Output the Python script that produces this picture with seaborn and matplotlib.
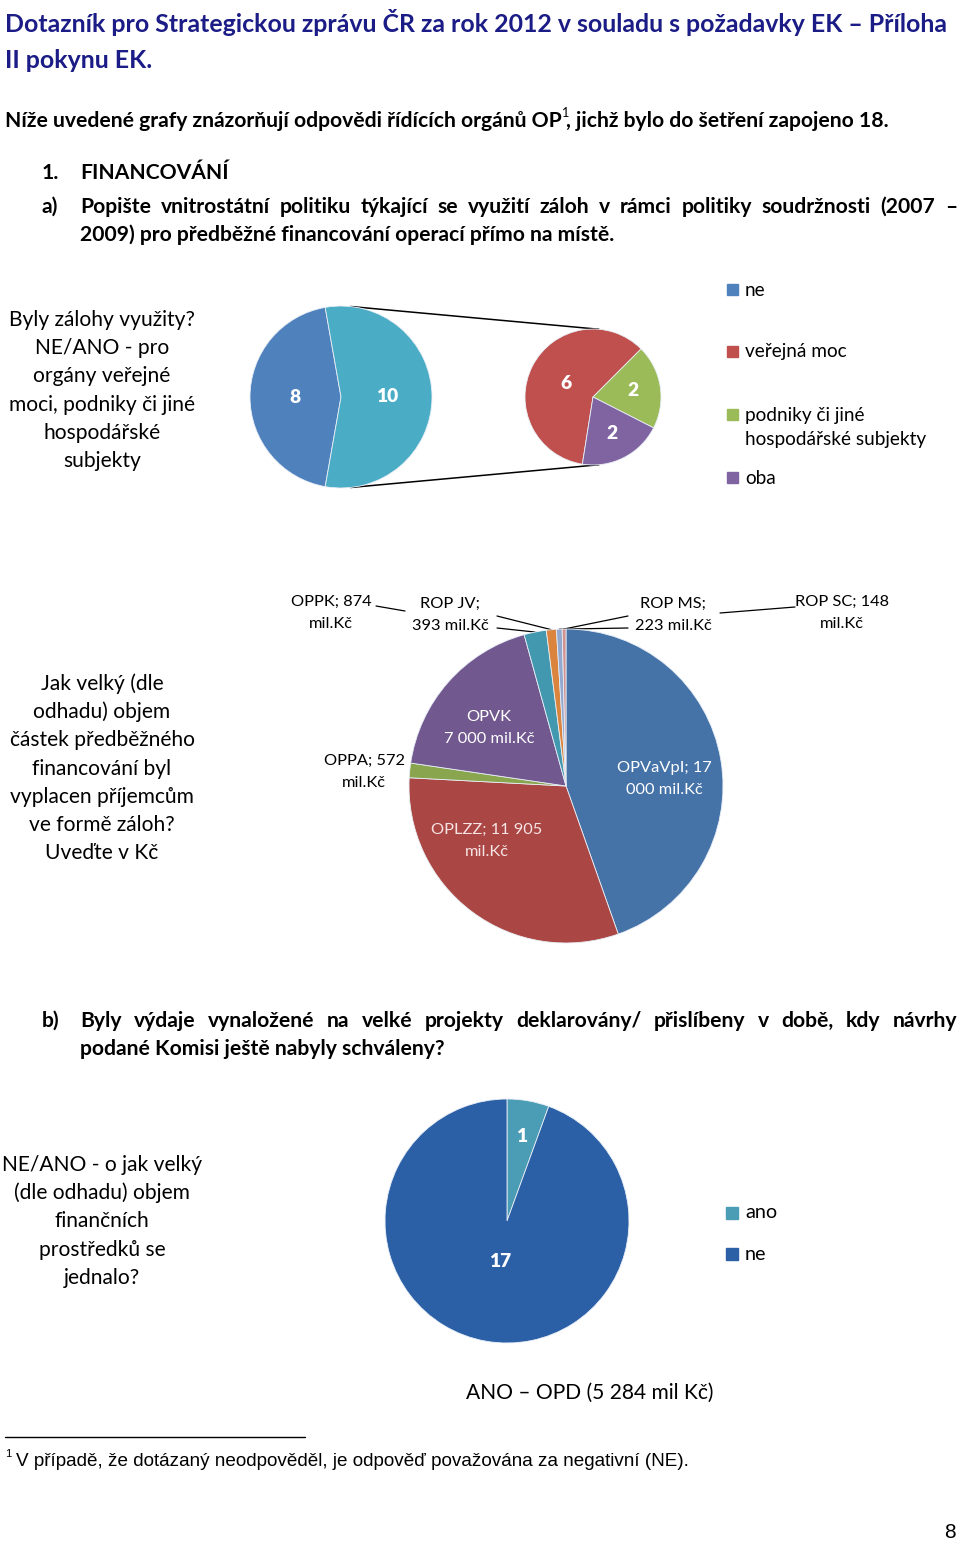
import numpy as np
import matplotlib
matplotlib.use("Agg")
import matplotlib.pyplot as plt
from matplotlib.patches import Rectangle
import seaborn as sns

# ---- data ----
q1_main_labels = ["ne", "ano"]
q1_main_values = [8, 10]
q1_split_labels = ["veřejná moc", "podniky či jiné\nhospodářské subjekty", "oba"]
q1_split_values = [6, 2, 2]

q2_programmes = ["OPVaVpI", "OPLZZ", "OPPA", "OPVK", "OPPK", "ROP JV", "ROP MS", "ROP SC"]
q2_amounts = [17000, 11905, 572, 7000, 874, 393, 223, 148]
q2_texts = ["OPVaVpI; 17\n000 mil.Kč", "OPLZZ; 11 905\nmil.Kč", "OPPA; 572\nmil.Kč",
            "OPVK\n7 000 mil.Kč", "OPPK; 874\nmil.Kč", "ROP JV;\n393 mil.Kč",
            "ROP MS;\n223 mil.Kč", "ROP SC; 148\nmil.Kč"]

q3_labels = ["ano", "ne"]
q3_values = [1, 17]

# ---- style ----
sns.set_theme(style="white")
plt.rcParams['font.family'] = ['Lato', 'DejaVu Sans']

W, H = 960, 1545
fig = plt.figure(figsize=(W / 100, H / 100), dpi=100)
page = fig.add_axes([0, 0, 1, 1])
page.set_xlim(0, W)
page.set_ylim(H, 0)
page.axis('off')
renderer = fig.canvas.get_renderer()


def width_px(s, size, **kw):
    t = page.text(0, 0, s, fontsize=size, **kw)
    w = t.get_window_extent(renderer).width
    t.remove()
    return w


def fit(s, target, **kw):
    return 10 * target / width_px(s, 10, **kw)


def justify(line, x0, x1, y, size, **kw):
    words = line.split(' ')
    ws = [width_px(w, size, **kw) for w in words]
    gap = (x1 - x0 - sum(ws)) / (len(words) - 1)
    x = x0
    for w, wd in zip(words, ws):
        page.text(x, y, w, fontsize=size, va='center', ha='left', **kw)
        x += wd + gap


def pie_axes(cx, cy, r):
    return fig.add_axes([(cx - r) / W, 1 - (cy + r) / H, 2 * r / W, 2 * r / H])


def finish(ax):
    ax.set_xlim(-1, 1)
    ax.set_ylim(-1, 1)
    ax.axis('off')


# ---- header ----
navy = '#1B1C86'
h1 = "Dotazník pro Strategickou zprávu ČR za rok 2012 v souladu s požadavky EK – Příloha"
hs = fit(h1, 945, fontweight='bold')
page.text(5, 22, h1, fontsize=hs, fontweight='bold', color=navy, va='center')
page.text(5, 60, "II pokynu EK.", fontsize=hs, fontweight='bold', color=navy, va='center')

part1 = "Níže uvedené grafy znázorňují odpovědi řídících orgánů OP"
part2 = ", jichž bylo do šetření zapojeno 18."
bs = fit(part1 + "1" + part2, 895, fontweight='bold')
bold = dict(fontweight='bold', color='black')

# intro line with superscript
page.text(5, 121, part1, fontsize=bs, va='center', **bold)
x = 5 + width_px(part1, bs, fontweight='bold')
page.text(x - 1, 113, "1", fontsize=bs * 0.6, va='center', color='black')
page.text(x + 4, 121, part2, fontsize=bs, va='center', **bold)

page.text(42, 173, "1.", fontsize=bs, va='center', **bold)
page.text(80, 173, "FINANCOVÁNÍ", fontsize=bs, va='center', **bold)
page.text(42, 207, "a)", fontsize=bs, va='center', **bold)
justify("Popište vnitrostátní politiku týkající se využití záloh v rámci politiky soudržnosti (2007 –",
        80, 957, 207, bs, **bold)
page.text(80, 235, "2009) pro předběžné financování operací přímo na místě.", fontsize=bs, va='center', **bold)

page.text(42, 1021, "b)", fontsize=bs, va='center', **bold)
justify("Byly výdaje vynaložené na velké projekty deklarovány/ přislíbeny v době, kdy návrhy",
        80, 957, 1021, bs, **bold)
page.text(80, 1049, "podané Komisi ještě nabyly schváleny?", fontsize=bs, va='center', **bold)

# ---- left question texts ----
qs = fit("moci, podniky či jiné", 188)
q1_lines = ["Byly zálohy využity?", "NE/ANO - pro", "orgány veřejné", "moci, podniky či jiné",
            "hospodářské", "subjekty"]
for i, s in enumerate(q1_lines):
    page.text(102, 320 + 28.2 * i, s, fontsize=qs, ha='center', va='center', color='black')
q2_lines = ["Jak velký (dle", "odhadu) objem", "částek předběžného", "financování byl",
            "vyplacen příjemcům", "ve formě záloh?", "Uveďte v Kč"]
for i, s in enumerate(q2_lines):
    page.text(102, 684 + 28.2 * i, s, fontsize=qs, ha='center', va='center', color='black')
q3_lines = ["NE/ANO - o jak velký", "(dle odhadu) objem", "finančních", "prostředků se", "jednalo?"]
for i, s in enumerate(q3_lines):
    page.text(102, 1165 + 28.2 * i, s, fontsize=qs, ha='center', va='center', color='black')

# ---- chart 1: pie of pie ----
c1_main = ['#4F81BD', '#4BACC6']
c1_split = ['#C0504D', '#9BBB59', '#8064A2']
edge = dict(edgecolor='#E8EEF6', linewidth=0.6)
lab = dict(color='white', fontweight='heavy', ha='center', va='center')

ls = fit("10", 22, fontweight='heavy')
ax1 = pie_axes(341, 397, 91)
wedges, _ = ax1.pie(q1_main_values, colors=c1_main, startangle=100, wedgeprops=edge)
finish(ax1)
for w, v in zip(wedges, q1_main_values):
    a = np.deg2rad((w.theta1 + w.theta2) / 2)
    ax1.text(0.51 * np.cos(a), 0.51 * np.sin(a), str(v), fontsize=ls, **lab)

ax2 = pie_axes(593, 397, 68)
wedges, _ = ax2.pie(q1_split_values, colors=c1_split, startangle=261, counterclock=False, wedgeprops=edge)
finish(ax2)
for w, v, rr in zip(wedges, q1_split_values, [0.45, 0.6, 0.6]):
    a = np.deg2rad((w.theta1 + w.theta2) / 2)
    ax2.text(rr * np.cos(a), rr * np.sin(a), str(v), fontsize=ls, **lab)

# connector lines
for ang in (84, -84):
    a1, a2 = np.deg2rad(ang), np.deg2rad(85 if ang > 0 else -85)
    page.plot([341 + 91 * np.cos(a1), 593 + 68 * np.cos(a2)],
              [397 - 91 * np.sin(a1), 397 - 68 * np.sin(a2)], color='black', lw=1.1)

gs = fit("hospodářské subjekty", 182)
legend1 = [(q1_main_labels[0], c1_main[0], 290)] + \
          [(l, c, y) for l, c, y in zip(q1_split_labels, c1_split, [352, 415, 478])]
for l, c, y in legend1:
    page.add_patch(Rectangle((727, y - 6), 11, 11, color=c))
    for j, part in enumerate(l.split('\n')):
        page.text(745, y + 25 * j, part, fontsize=gs, va='center', color='black')

# ---- chart 2 ----
c2 = ['#4572A7', '#AA4643', '#89A54E', '#71588F', '#4198AF', '#DB843D', '#93A9CF', '#D19392']
cx2, cy2, r2 = 566, 786, 157
ax3 = pie_axes(cx2, cy2, r2)
wedges2, _ = ax3.pie(q2_amounts, colors=c2, startangle=90, counterclock=False, wedgeprops=edge)
finish(ax3)

ks = fit("OPVaVpI; 17", 94)
label_pos = [(664, 779, 'white'), (487, 841, '#F6E4E4'), (364, 772, 'black'), (489, 728, 'white'),
             (331, 613, 'black'), (450, 615, 'black'), (673, 615, 'black'), (842, 613, 'black')]
for s, (lx, ly, col) in zip(q2_texts, label_pos):
    ax3.text(lx, ly, s, fontsize=ks, ha='center', va='center', color=col, linespacing=1.75,
             transform=page.transData, clip_on=False)


def rim(i):
    w = wedges2[i]
    a = np.deg2rad((w.theta1 + w.theta2) / 2)
    return cx2 + r2 * np.cos(a), cy2 - r2 * np.sin(a)


leaders = [(5, (497, 616)), (4, (497, 628)), (7, (628, 616)), (6, (628, 628))]
for i, (sx, sy) in leaders:
    ex, ey = rim(i)
    page.plot([sx, ex], [sy, ey], color='black', lw=0.9)
page.plot([376, 405], [606, 611], color='black', lw=0.9)
page.plot([720, 795], [613, 607], color='black', lw=0.9)

# ---- chart 3 ----
c3 = ['#4A9DB4', '#2B5FA6']
ax4 = pie_axes(507, 1221, 122)
wedges3, _ = ax4.pie(q3_values, colors=c3, startangle=90, counterclock=False, wedgeprops=edge)
finish(ax4)
for w, v, rr in zip(wedges3, q3_values, [0.7, 0.34]):
    a = np.deg2rad((w.theta1 + w.theta2) / 2)
    ax4.text(rr * np.cos(a), rr * np.sin(a), str(v), fontsize=ls, **lab)

for l, c, y in zip(q3_labels, c3, [1213, 1254]):
    page.add_patch(Rectangle((726, y - 6), 12, 12, color=c))
    page.text(745, y, l, fontsize=gs * 1.05, va='center', color='black')

page.text(590, 1393, "ANO – OPD (5 284 mil Kč)", fontsize=qs, ha='center', va='center', color='black')

# ---- footnote ----
page.plot([5, 305], [1437, 1437], color='black', lw=1)
fn = "V případě, že dotázaný neodpověděl, je odpověď považována za negativní (NE)."
fs = fit(fn, 674, family='Liberation Sans')
page.text(5, 1454, "1", fontsize=fs * 0.6, va='center', family='Liberation Sans', color='black')
page.text(16, 1462, fn, fontsize=fs, va='center', family='Liberation Sans', color='black')
page.text(950, 1533, "8", fontsize=15, ha='center', va='center', family='Liberation Sans', color='black')

fig.savefig("out.png", dpi=100)
